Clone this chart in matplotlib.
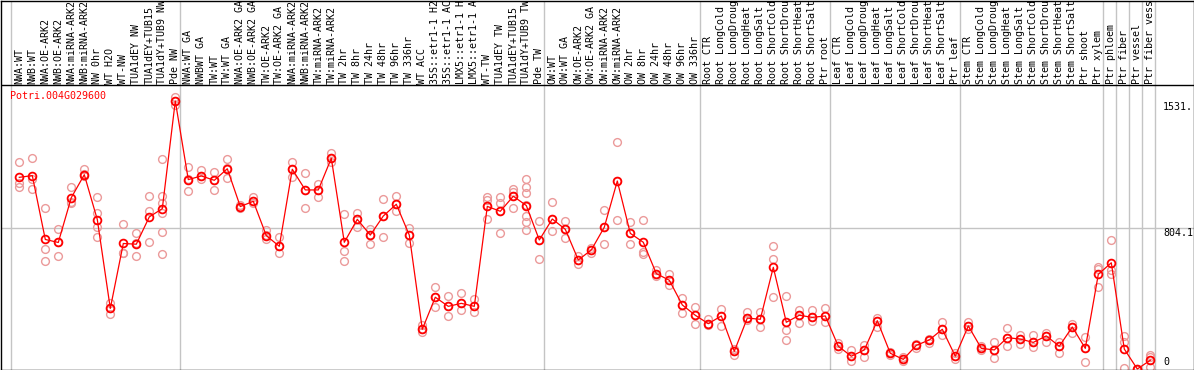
import matplotlib
matplotlib.use('Agg')
import matplotlib.pyplot as plt

# sample names (top header, rotated); long names are shown cut as in the source chart
labels = ['NWA:WT', 'NWB:WT', 'NWA:OE-ARK2', 'NWB:OE-ARK2', 'NWA:miRNA-ARK2', 'NWB:miRNA-ARK2',
          'NW 0hr', 'WT H2O', 'WT-NW', 'TUA1dEY NW', 'TUA1dEY+TUB15', 'TUA1dY+TUB9 NW', 'Pde NW',
          'NWA:WT GA', 'NWBWT GA', 'TW:WT', 'TW:WT GA', 'NWA:OE-ARK2 GA', 'NWB:OE-ARK2 GA',
          'TW:OE-ARK2', 'TW:OE-ARK2 GA', 'NWA:miRNA-ARK2', 'NWB:miRNA-ARK2', 'TW:miRNA-ARK2',
          'TW:miRNA-ARK2', 'TW 2hr', 'TW 8hr', 'TW 24hr', 'TW 48hr', 'TW 96hr', 'TW 336hr', 'WT ACC',
          '35S::etr1-1 H2', '35S::etr1-1 AC', 'LMX5::etr1-1 H', 'LMX5::etr1-1 A', 'WT-TW',
          'TUA1dEY TW', 'TUA1dEY+TUB15', 'TUA1dY+TUB9 TW', 'Pde TW',
          'OW:WT', 'OW:WT GA', 'OW:OE-ARK2', 'OW:OE-ARK2 GA', 'OW:miRNA-ARK2', 'OW:miRNA-ARK2',
          'OW 2hr', 'OW 8hr', 'OW 24hr', 'OW 48hr', 'OW 96hr', 'OW 336hr',
          'Root CTR', 'Root LongCold', 'Root LongDroug', 'Root LongHeat', 'Root LongSalt',
          'Root ShortCold', 'Root ShortDrou', 'Root ShortHeat', 'Root ShortSalt', 'Ptr root',
          'Leaf CTR', 'Leaf LongCold', 'Leaf LongDroug', 'Leaf LongHeat', 'Leaf LongSalt',
          'Leaf ShortCold', 'Leaf ShortDrou', 'Leaf ShortHeat', 'Leaf ShortSalt', 'Ptr leaf',
          'Stem CTR', 'Stem LongCold', 'Stem LongDroug', 'Stem LongHeat', 'Stem LongSalt',
          'Stem ShortCold', 'Stem ShortDrou', 'Stem ShortHeat', 'Stem ShortSalt', 'Ptr shoot',
          'Ptr xylem', 'Ptr phloem', 'Ptr fiber', 'Ptr vessel', 'Ptr fiber vess']

# mean expression per sample
means = [1095, 1105, 740, 723, 979, 1110, 854, 346, 717, 713, 869, 916, 1531,
         1082, 1103, 1078, 1144, 928, 958, 762, 701, 1141, 1023, 1023, 1204, 724, 855, 765,
         874, 941, 765, 227, 410, 358, 375, 358, 929, 901, 987, 934, 737,
         857, 798, 623, 680, 810, 1074, 775, 724, 545, 507, 366, 307,
         259, 303, 101, 291, 284, 581, 267, 307, 295, 303,
         130, 73, 109, 276, 90, 55, 135, 166, 227, 73,
         246, 118, 109, 179, 171, 152, 189, 130, 240, 118, 541,
         607, 114, 0, 50]

# replicate values per sample
reps = [[1181, 1061, 1040], [1204, 1084, 1030], [920, 684, 615], [798, 725, 644],
        [1038, 956, 947], [1143, 1112, 1103], [981, 890, 810, 752], [375, 346, 316],
        [827, 664, 660], [775, 720, 644], [987, 904, 724], [1198, 990, 950, 889, 781, 657],
        [1552, 1531, 1508],
        [1154, 1084, 1015], [1137, 1104, 1084], [1127, 1080, 1023], [1198, 1147, 1089],
        [935, 928, 921], [984, 960, 950], [794, 764, 741], [754, 703, 661],
        [1181, 1143, 1099], [1118, 1023, 920], [1055, 1023, 984], [1232, 1204, 1184],
        [884, 676, 615], [893, 855, 810], [798, 766, 714], [969, 874, 752], [988, 941, 901],
        [804, 765, 718], [251, 227, 213], [467, 410, 356], [417, 358, 305], [434, 375, 337],
        [398, 358, 327], [984, 965, 929, 855], [984, 947, 901, 775], [1027, 1013, 987, 918],
        [1085, 1041, 1004, 935, 874, 842, 794], [846, 737, 627],
        [954, 857, 788], [846, 798, 747], [646, 623, 600], [693, 680, 661], [908, 810, 714],
        [1295, 1074, 851], [838, 775, 712], [851, 667, 657], [564, 545, 533], [543, 507, 480],
        [404, 366, 318], [354, 307, 255],
        [286, 259, 253], [343, 303, 244], [116, 101, 80], [327, 291, 280], [326, 284, 242],
        [701, 627, 410], [417, 221, 164], [337, 307, 261], [337, 295, 276], [347, 303, 267],
        [147, 130, 113], [109, 73, 47], [137, 109, 70], [290, 276, 238], [95, 90, 80],
        [67, 55, 47], [143, 135, 118], [173, 166, 150], [267, 227, 194], [90, 73, 55],
        [267, 246, 230], [131, 118, 109], [152, 109, 61], [232, 179, 131], [194, 171, 143],
        [194, 152, 124], [204, 189, 156], [152, 130, 90], [257, 240, 204], [183, 118, 42],
        [584, 573, 467], [737, 566, 543], [189, 152, 4], [0, 0, 0], [80, 70, 10]]

# last sample index of each group (separators)
group_ends = [12, 40, 52, 62, 72, 83, 84, 85, 86, 87]

gene = 'Potri.004G029600'
ymax_label = '1531.'
ymid = 804.1

W, H = 1194, 370
fig = plt.figure(figsize=(W / 100, H / 100), dpi=100)
ax = fig.add_axes([0.5 / W, 0.5 / H, 1193 / W, 369 / H])

# pixel mapping: sample i at x = 19.3 + 13 i, value 0 at y=369 px, 5.713 units per px
k = 5.713
ax.set_xlim((0.5 - 19.3) / 13, (1193.5 - 19.3) / 13)
ax.set_ylim((369 - 369.5) * k, (369 - 0.5) * k)
ax.set_xticks([])
ax.set_yticks([])
for s in ax.spines.values():
    s.set_color('black')
    s.set_linewidth(1.0)

mono = 'DejaVu Sans Mono'
fs = 7.2
grey = '#c4c4c4'

# separators
ax.axvline((10.5 - 19.3) / 13, color=grey, lw=1.0, zorder=1)
for e in group_ends:
    ax.axvline(e + 0.36, color=grey, lw=1.0, zorder=1)
ax.axhline(ymid, color=grey, lw=1.0, zorder=1)

# header boundary
header_y = (369 - 85.5) * k
ax.axhline(header_y, color='black', lw=1.0, zorder=3)

x = list(range(len(means)))

# replicates
for i in range(len(reps)):
    ax.plot([i] * len(reps[i]), reps[i], 'o', ms=5.6, mfc='none', mec='#eb9a9a',
            mew=1.0, zorder=2, clip_on=True)

# means
ax.plot(x, means, '-', color='red', lw=0.9, zorder=4)
ax.plot(x, means, 'o', ms=5.6, mfc='none', mec='red', mew=1.3, zorder=5)

# header labels
for i in range(len(labels)):
    ax.text(i, (369 - 84) * k, labels[i], rotation=90, ha='center', va='bottom',
            family=mono, fontsize=fs, color='black', clip_on=True)

ax.text((10 - 19.3) / 13, (369 - 96) * k, gene, ha='left', va='center',
        family=mono, fontsize=fs, color='red')

xr = (1163 - 19.3) / 13
ax.text(xr, (369 - 107) * k, ymax_label, ha='left', va='center', family=mono, fontsize=fs)
ax.text(xr, (369 - 233) * k, '%.1f' % ymid, ha='left', va='center', family=mono, fontsize=fs)
ax.text(xr, (369 - 362) * k, '0', ha='left', va='center', family=mono, fontsize=fs)

fig.savefig('out.png', dpi=100)
